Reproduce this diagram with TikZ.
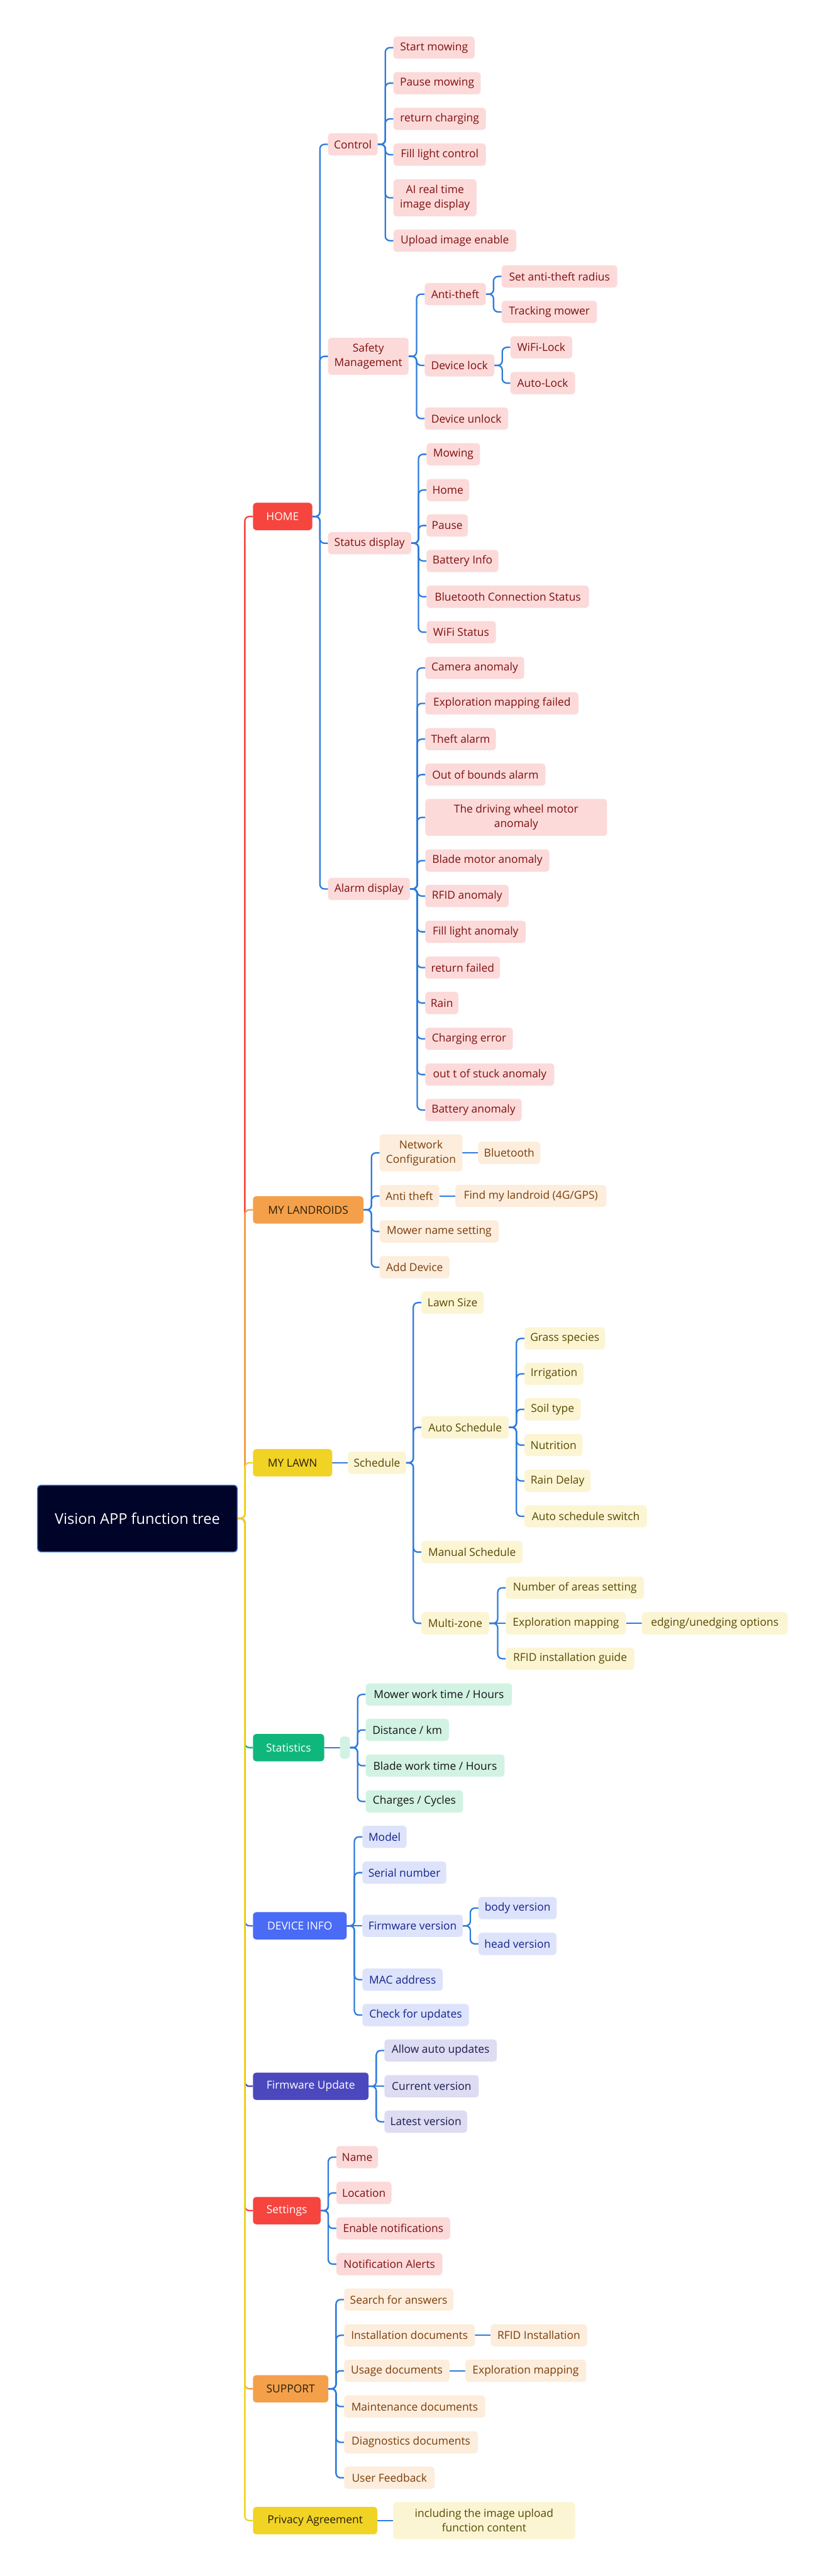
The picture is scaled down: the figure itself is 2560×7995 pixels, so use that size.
\documentclass[tikz,border=0pt]{standalone}
\usepackage{fontspec}
\setmainfont{Open Sans}
\pgfdeclarelayer{back}
\pgfdeclarelayer{bg}
\pgfsetlayers{back,bg,main}
\definecolor{lineB}{HTML}{2E7BDB}
\definecolor{cR}{HTML}{F5453E}
\definecolor{cO}{HTML}{F4A04B}
\definecolor{cY}{HTML}{F1D326}
\definecolor{cG}{HTML}{10B77C}
\definecolor{cB}{HTML}{4A6BF5}
\definecolor{cI}{HTML}{4B48BE}
\definecolor{fP}{HTML}{FCDADA}\definecolor{tP}{HTML}{7E1010}
\definecolor{fO}{HTML}{FDEDDD}\definecolor{tO}{HTML}{7A3E0A}
\definecolor{fY}{HTML}{FCF5D3}\definecolor{tY}{HTML}{564805}
\definecolor{fG}{HTML}{D2F2E4}\definecolor{tG}{HTML}{141414}
\definecolor{fB}{HTML}{DDE3FB}\definecolor{tB}{HTML}{14238A}
\definecolor{fI}{HTML}{DEDCF2}\definecolor{tI}{HTML}{1C1B4F}
\definecolor{rootF}{HTML}{000428}\definecolor{rootB}{HTML}{3A78D6}
\definecolor{tDark}{HTML}{2A2008}
\tikzset{
  box/.style={rectangle, rounded corners=10pt, minimum height=69pt, inner xsep=3pt, inner ysep=0pt, align=center, anchor=west, font=\fontsize{34}{45}\selectfont},
  two/.style={minimum height=115pt},
  mainb/.style={box, minimum height=85pt},
  mR/.style={mainb, fill=cR, text=white},
  mO/.style={mainb, fill=cO, text=tDark},
  mY/.style={mainb, fill=cY, text=tDark},
  mG/.style={mainb, fill=cG, text=white},
  mB/.style={mainb, fill=cB, text=white},
  mI/.style={mainb, fill=cI, text=white},
  lP/.style={box, fill=fP, text=tP},
  lO/.style={box, fill=fO, text=tO},
  lY/.style={box, fill=fY, text=tY},
  lG/.style={box, fill=fG, text=tG},
  lB/.style={box, fill=fB, text=tB},
  lI/.style={box, fill=fI, text=tI},
  conn/.style={draw=lineB, line width=4.5pt, rounded corners=14pt},
  trunk/.style={line width=4.5pt, rounded corners=14pt},
}
\newcommand{\nd}[6]{\node[#1, minimum width=#3pt] (#2) at (#4,#5) {#6};}
\newcommand{\cn}[2]{\draw[conn] (#1.east) -| ([xshift=-25pt]#2.west) -- (#2.west);}
\newcommand{\sn}[2]{\draw[conn, rounded corners=0pt] (#1.east) -- (#1.east -| #2.west);}
\newcommand{\tk}[2]{\draw[trunk, draw=#2] (root.east) -| ([xshift=-25pt]#1.west) -- (#1.west);}
\begin{document}
\begin{tikzpicture}[x=1pt, y=-1pt]
\begin{pgfonlayer}{back}
\fill[white] (0,0) rectangle (2560,7995);
\end{pgfonlayer}
\useasboundingbox (0,0) rectangle (2560,7995);
% root
\node[box, fill=rootF, draw=rootB, line width=3pt, minimum width=620pt, minimum height=207pt, text=white, font=\fontsize{46}{56}\selectfont] (root) at (115,4713) {Vision APP function tree};
% HOME
\nd{mR}{home}{184}{785}{1603}{HOME}
\nd{lP}{ctrl}{154}{1018}{448}{Control}
\nd{lP,two}{safe}{250}{1018}{1106}{Safety\\Management}
\nd{lP}{stat}{258}{1018}{1686}{Status display}
\nd{lP}{alarm}{254}{1018}{2759}{Alarm display}
\nd{lP}{c1}{252}{1221}{148}{Start mowing}
\nd{lP}{c2}{271}{1221}{258}{Pause mowing}
\nd{lP}{c3}{287}{1221}{369}{return charging}
\nd{lP}{c4}{287}{1221}{480}{Fill light control}
\nd{lP,two}{c5}{258}{1221}{614}{AI real time\\image display}
\nd{lP}{c6}{381}{1221}{747}{Upload image enable}
\nd{lP}{s1}{190}{1318}{913}{Anti-theft}
\nd{lP}{s2}{216}{1318}{1134}{Device lock}
\nd{lP}{s3}{259}{1318}{1299}{Device unlock}
\nd{lP}{s11}{359}{1557}{858}{Set anti-theft radius}
\nd{lP}{s12}{296}{1557}{968}{Tracking mower}
\nd{lP}{s21}{192}{1584}{1078}{WiFi-Lock}
\nd{lP}{s22}{201}{1584}{1189}{Auto-Lock}
\nd{lP}{t1}{166}{1324}{1410}{Mowing}
\nd{lP}{t2}{132}{1324}{1521}{Home}
\nd{lP}{t3}{128}{1324}{1631}{Pause}
\nd{lP}{t4}{223}{1324}{1741}{Battery Info}
\nd{lP}{t5}{504}{1324}{1852}{Bluetooth Connection Status}
\nd{lP}{t6}{215}{1324}{1962}{WiFi Status}
\nd{lP}{a1}{307}{1320}{2073}{Camera anomaly}
\nd{lP}{a2}{476}{1320}{2183}{Exploration mapping failed}
\nd{lP}{a3}{219}{1320}{2294}{Theft alarm}
\nd{lP}{a4}{373}{1320}{2404}{Out of bounds alarm}
\nd{lP,two}{a5}{564}{1320}{2537}{The driving wheel motor\\anomaly}
\nd{lP}{a6}{385}{1320}{2671}{Blade motor anomaly}
\nd{lP}{a7}{259}{1320}{2781}{RFID anomaly}
\nd{lP}{a8}{312}{1320}{2892}{Fill light anomaly}
\nd{lP}{a9}{232}{1320}{3003}{return failed}
\nd{lP}{a10}{103}{1320}{3113}{Rain}
\nd{lP}{a11}{272}{1320}{3224}{Charging error}
\nd{lP}{a12}{400}{1320}{3335}{out t of stuck anomaly}
\nd{lP}{a13}{299}{1320}{3445}{Battery anomaly}
% MY LANDROIDS
\nd{mO}{land}{343}{785}{3755}{MY LANDROIDS}
\nd{lO,two}{l1}{257}{1178}{3578}{Network\\Configuration}
\nd{lO}{l2}{185}{1178}{3712}{Anti theft}
\nd{lO}{l3}{370}{1178}{3822}{Mower name setting}
\nd{lO}{l4}{217}{1178}{3933}{Add Device}
\nd{lO}{l11}{193}{1484}{3578}{Bluetooth}
\nd{lO}{l21}{469}{1413}{3712}{Find my landroid (4G/GPS)}
% MY LAWN
\nd{mY}{lawn}{246}{785}{4540}{MY LAWN}
\nd{lY}{w0}{180}{1080}{4540}{Schedule}
\nd{lY}{w1}{193}{1308}{4043}{Lawn Size}
\nd{lY}{w2}{271}{1308}{4430}{Auto Schedule}
\nd{lY}{w3}{314}{1308}{4817}{Manual Schedule}
\nd{lY}{w4}{210}{1308}{5038}{Multi-zone}
\nd{lY}{w21}{250}{1628}{4154}{Grass species}
\nd{lY}{w22}{183}{1628}{4264}{Irrigation}
\nd{lY}{w23}{174}{1628}{4374}{Soil type}
\nd{lY}{w24}{180}{1628}{4485}{Nutrition}
\nd{lY}{w25}{205}{1628}{4596}{Rain Delay}
\nd{lY}{w26}{380}{1628}{4706}{Auto schedule switch}
\nd{lY}{w41}{429}{1570}{4928}{Number of areas setting}
\nd{lY}{w42}{373}{1570}{5038}{Exploration mapping}
\nd{lY}{w43}{399}{1570}{5148}{RFID installation guide}
\nd{lY}{w421}{453}{1992}{5038}{edging/unedging options}
% Statistics
\nd{mG}{stats}{221}{785}{5424}{Statistics}
\nd{lG}{g0}{31}{1055}{5424}{}
\nd{lG}{g1}{454}{1135}{5259}{Mower work time / Hours}
\nd{lG}{g2}{258}{1135}{5369}{Distance / km}
\nd{lG}{g3}{431}{1135}{5480}{Blade work time / Hours}
\nd{lG}{g4}{302}{1135}{5591}{Charges / Cycles}
% DEVICE INFO
\nd{mB}{dev}{291}{785}{5977}{DEVICE INFO}
\nd{lB}{d1}{137}{1125}{5701}{Model}
\nd{lB}{d2}{260}{1125}{5812}{Serial number}
\nd{lB}{d3}{311}{1125}{5977}{Firmware version}
\nd{lB}{d4}{249}{1125}{6144}{MAC address}
\nd{lB}{d5}{330}{1125}{6254}{Check for updates}
\nd{lB}{d31}{243}{1485}{5922}{body version}
\nd{lB}{d32}{242}{1485}{6033}{head version}
% Firmware Update
\nd{mI}{fwu}{359}{785}{6475}{Firmware Update}
\nd{lI}{f1}{349}{1193}{6364}{Allow auto updates}
\nd{lI}{f2}{293}{1193}{6475}{Current version}
\nd{lI}{f3}{257}{1193}{6585}{Latest version}
% Settings
\nd{mR}{sett}{210}{785}{6861}{Settings}
\nd{lP}{e1}{129}{1044}{6695}{Name}
\nd{lP}{e2}{171}{1044}{6806}{Location}
\nd{lP}{e3}{353}{1044}{6916}{Enable notifications}
\nd{lP}{e4}{329}{1044}{7027}{Notification Alerts}
% SUPPORT
\nd{mO}{supp}{234}{785}{7414}{SUPPORT}
\nd{lO}{p1}{339}{1068}{7137}{Search for answers}
\nd{lO}{p2}{406}{1068}{7248}{Installation documents}
\nd{lO}{p3}{327}{1068}{7358}{Usage documents}
\nd{lO}{p4}{438}{1068}{7469}{Maintenance documents}
\nd{lO}{p5}{415}{1068}{7580}{Diagnostics documents}
\nd{lO}{p6}{281}{1068}{7690}{User Feedback}
\nd{lO}{p21}{299}{1523}{7248}{RFID Installation}
\nd{lO}{p31}{375}{1444}{7358}{Exploration mapping}
% Privacy
\nd{mY}{priv}{386}{785}{7823}{Privacy Agreement}
\nd{lY,two}{q1}{565}{1220}{7823}{including the image upload\\function content}
% connectors
\begin{pgfonlayer}{bg}
\tk{home}{cR}
\tk{land}{cO}
\tk{lawn}{cY}
\tk{stats}{cG}
\tk{dev}{cB}
\tk{fwu}{cI}
\tk{sett}{cR}
\tk{supp}{cO}
\tk{priv}{cY}
\cn{home}{ctrl}\cn{home}{safe}\cn{home}{stat}\cn{home}{alarm}
\cn{ctrl}{c1}\cn{ctrl}{c2}\cn{ctrl}{c3}\cn{ctrl}{c4}\cn{ctrl}{c5}\cn{ctrl}{c6}
\cn{safe}{s1}\cn{safe}{s2}\cn{safe}{s3}
\cn{s1}{s11}\cn{s1}{s12}\cn{s2}{s21}\cn{s2}{s22}
\cn{stat}{t1}\cn{stat}{t2}\cn{stat}{t3}\cn{stat}{t4}\cn{stat}{t5}\cn{stat}{t6}
\cn{alarm}{a1}\cn{alarm}{a2}\cn{alarm}{a3}\cn{alarm}{a4}\cn{alarm}{a5}\cn{alarm}{a6}\cn{alarm}{a7}
\cn{alarm}{a8}\cn{alarm}{a9}\cn{alarm}{a10}\cn{alarm}{a11}\cn{alarm}{a12}\cn{alarm}{a13}
\cn{land}{l1}\cn{land}{l2}\cn{land}{l3}\cn{land}{l4}
\sn{l1}{l11}\sn{l2}{l21}
\sn{lawn}{w0}
\cn{w0}{w1}\cn{w0}{w2}\cn{w0}{w3}\cn{w0}{w4}
\cn{w2}{w21}\cn{w2}{w22}\cn{w2}{w23}\cn{w2}{w24}\cn{w2}{w25}\cn{w2}{w26}
\cn{w4}{w41}\sn{w4}{w42}\cn{w4}{w43}
\sn{w42}{w421}
\sn{stats}{g0}
\cn{g0}{g1}\cn{g0}{g2}\cn{g0}{g3}\cn{g0}{g4}
\cn{dev}{d1}\cn{dev}{d2}\sn{dev}{d3}\cn{dev}{d4}\cn{dev}{d5}
\cn{d3}{d31}\cn{d3}{d32}
\cn{fwu}{f1}\sn{fwu}{f2}\cn{fwu}{f3}
\cn{sett}{e1}\cn{sett}{e2}\cn{sett}{e3}\cn{sett}{e4}
\cn{supp}{p1}\cn{supp}{p2}\cn{supp}{p3}\cn{supp}{p4}\cn{supp}{p5}\cn{supp}{p6}
\sn{p2}{p21}\sn{p3}{p31}
\sn{priv}{q1}
\end{pgfonlayer}
\end{tikzpicture}
\end{document}
